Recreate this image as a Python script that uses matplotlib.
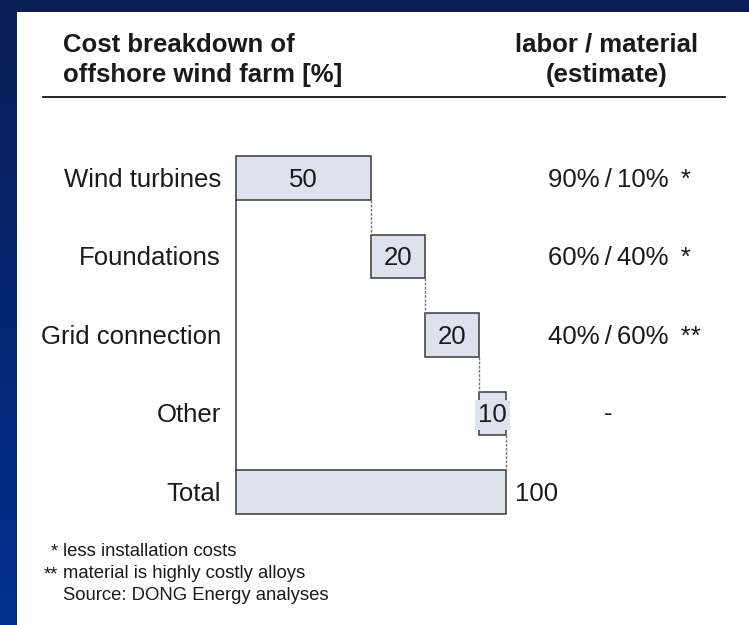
import numpy as np
import matplotlib.pyplot as plt
from matplotlib.patches import Rectangle
from matplotlib.colors import LinearSegmentedColormap

plt.rcParams['font.family'] = ['Liberation Sans', 'DejaVu Sans']

# data
categories = ['Wind turbines', 'Foundations', 'Grid connection', 'Other']
shares = [50, 20, 20, 10]
total_label = 'Total'
labor_material = ['90%\u2009/\u200910% \u2009*', '60%\u2009/\u200940% \u2009*',
                  '40%\u2009/\u200960% \u2009**', '-']
footnote_marks = ['*', '**', '']
footnotes = ['less installation costs',
             'material is highly costly alloys',
             'Source: DONG Energy analyses']

W, H = 749, 625
fig = plt.figure(figsize=(W / 100, H / 100), dpi=100)
fig.patch.set_facecolor('white')

# blue slide frame (top band + left band with gradient)
bg = fig.add_axes([0, 0, 1, 1])
bg.set_xlim(0, W)
bg.set_ylim(H, 0)
bg.axis('off')
frame_cmap = LinearSegmentedColormap.from_list('frame', ['#0c1e56', '#00308f'])
grad = np.linspace(0, 1, 256).reshape(-1, 1)
bg.imshow(grad, cmap=frame_cmap, extent=[0, 17, H, 0], aspect='auto')
bg.add_patch(Rectangle((0, 0), W, 12, color='#0c1e56', lw=0))

txt = '#1a1a1a'

# header
bg.text(63, 60, 'Cost breakdown of\noffshore wind farm [%]', fontsize=18.5,
        fontweight='bold', color=txt, va='center', ha='left', linespacing=1.35)
bg.text(607, 60, 'labor / material\n(estimate)', fontsize=18.5,
        fontweight='bold', color=txt, va='center', ha='center', linespacing=1.35)
bg.plot([43, 725], [97, 97], color='black', lw=1.2)

# waterfall axes: x in percent units (2.7 px per unit), y in row units
ax = fig.add_axes([0, 0, 1, 1], facecolor='none')
px = 2.7
row = 78.5
y0 = 178
ax.set_xlim(-236 / px, (W - 236) / px)
ax.set_ylim((H - y0) / row, -y0 / row)
ax.axis('off')

fill = '#dde3ee'
edge = '#3a3a3a'
bh = 0.56
fs = 18.5

left = 0
for i, (cat, v) in enumerate(zip(categories, shares)):
    ax.barh(i, v, left=left, height=bh, color=fill, edgecolor=edge, lw=1.1)
    ax.text(left + v / 2, i + 0.02, str(v), ha='center', va='center', fontsize=fs,
            color=txt,
            bbox=dict(facecolor=fill, edgecolor='none', pad=2) if v < 15 else None)
    ax.text(-5.6, i + 0.02, cat, ha='right', va='center', fontsize=fs, color=txt)
    if labor_material[i] == '-':
        ax.text(138, i, labor_material[i], ha='center', va='center', fontsize=fs, color=txt)
    else:
        ax.text(115.5, i + 0.02, labor_material[i], ha='left', va='center',
                fontsize=fs, color=txt)
    # dashed connector to next bar
    ax.plot([left + v, left + v], [i + bh / 2, i + 1 - bh / 2], color='#777777',
            lw=1, ls=(0, (2, 1)))
    left += v

n = len(categories)
total = sum(shares)
ax.barh(n, total, left=0, height=bh, color=fill, edgecolor=edge, lw=1.1)
ax.text(-5.6, n + 0.02, total_label, ha='right', va='center', fontsize=fs, color=txt)
ax.text(total + 3.5, n + 0.02, str(total), ha='left', va='center', fontsize=fs, color=txt)
# solid left spine from first bar down to total
ax.plot([0, 0], [bh / 2, n - bh / 2], color=edge, lw=1.1)

# footnotes
for k, (mark, note) in enumerate(zip(footnote_marks, footnotes)):
    yy = 551 + 22.5 * k
    if mark:
        bg.text(58, yy + 1, mark, ha='right', va='center', fontsize=13.3, color=txt)
    bg.text(63, yy, note, ha='left', va='center', fontsize=13.3, color=txt)

fig.savefig('out.png', dpi=100)
